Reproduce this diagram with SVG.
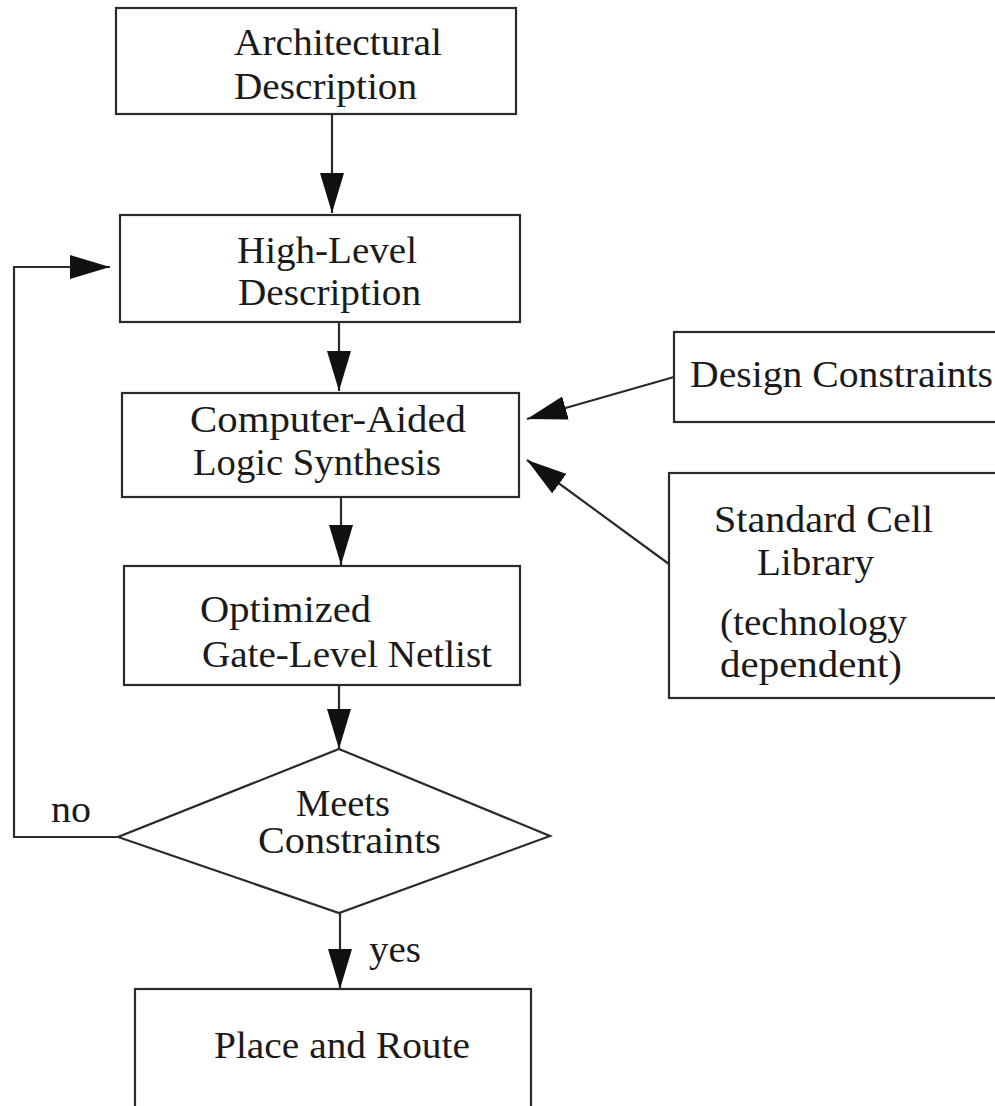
<svg xmlns="http://www.w3.org/2000/svg" width="995" height="1106" viewBox="0 0 995 1106">
<style>
.box{fill:#fff;stroke:#2a2a2a;stroke-width:2.2}
.ln{fill:none;stroke:#2a2a2a;stroke-width:2.2}
.t{font-family:"Liberation Serif","Times New Roman",serif;font-size:37px;fill:#1a1a1a}
</style>
<defs>
<marker id="ah" markerUnits="userSpaceOnUse" markerWidth="42" markerHeight="24" refX="40" refY="12" orient="auto" viewBox="0 0 42 24">
<path d="M0,0 L40,12 L0,24 z" fill="#111"/>
</marker>
</defs>
<rect width="995" height="1106" fill="#fff"/>
<g id="connectors">
<line class="ln" x1="332" y1="114" x2="332" y2="213" marker-end="url(#ah)"/>
<line class="ln" x1="339" y1="322" x2="339" y2="391" marker-end="url(#ah)"/>
<line class="ln" x1="341" y1="497" x2="341" y2="565" marker-end="url(#ah)"/>
<line class="ln" x1="339" y1="685" x2="339" y2="749" marker-end="url(#ah)"/>
<line class="ln" x1="340" y1="913" x2="340" y2="989" marker-end="url(#ah)"/>
<line class="ln" x1="674" y1="377" x2="527" y2="419" marker-end="url(#ah)"/>
<line class="ln" x1="673" y1="567" x2="527" y2="460" marker-end="url(#ah)"/>
<polyline class="ln" points="118,837 14,837 14,267 110,267" marker-end="url(#ah)"/>
<text class="t" x="51" y="822" textLength="40" lengthAdjust="spacingAndGlyphs">no</text>
<text class="t" x="369" y="962" textLength="52" lengthAdjust="spacingAndGlyphs">yes</text>
</g>
<g id="arch">
<rect class="box" x="116" y="8" width="400" height="106"/>
<text class="t" x="234" y="55" textLength="208" lengthAdjust="spacingAndGlyphs">Architectural</text>
<text class="t" x="234" y="99" textLength="183" lengthAdjust="spacingAndGlyphs">Description</text>
</g>
<g id="highlevel">
<rect class="box" x="120" y="215" width="400" height="107"/>
<text class="t" x="237" y="263" textLength="180" lengthAdjust="spacingAndGlyphs">High-Level</text>
<text class="t" x="238" y="305" textLength="183" lengthAdjust="spacingAndGlyphs">Description</text>
</g>
<g id="cals">
<rect class="box" x="122" y="393" width="397" height="104"/>
<text class="t" x="190" y="432" textLength="276" lengthAdjust="spacingAndGlyphs">Computer-Aided</text>
<text class="t" x="193" y="475" textLength="248" lengthAdjust="spacingAndGlyphs">Logic Synthesis</text>
</g>
<g id="netlist">
<rect class="box" x="124" y="566" width="396" height="119"/>
<text class="t" x="200" y="622" textLength="171" lengthAdjust="spacingAndGlyphs">Optimized</text>
<text class="t" x="202" y="667" textLength="290" lengthAdjust="spacingAndGlyphs">Gate-Level Netlist</text>
</g>
<g id="constraints">
<rect class="box" x="674" y="332" width="340" height="90"/>
<text class="t" x="690" y="387" textLength="303" lengthAdjust="spacingAndGlyphs">Design Constraints</text>
</g>
<g id="library">
<rect class="box" x="669" y="473" width="340" height="225"/>
<text class="t" x="714" y="532" textLength="219" lengthAdjust="spacingAndGlyphs">Standard Cell</text>
<text class="t" x="757" y="575" textLength="117" lengthAdjust="spacingAndGlyphs">Library</text>
<text class="t" x="720" y="635" textLength="187" lengthAdjust="spacingAndGlyphs">(technology</text>
<text class="t" x="720" y="677" textLength="182" lengthAdjust="spacingAndGlyphs">dependent)</text>
</g>
<g id="decision">
<polygon class="box" points="339,749 550,836 339,913 118,837"/>
<text class="t" x="296" y="816" textLength="94" lengthAdjust="spacingAndGlyphs">Meets</text>
<text class="t" x="258" y="853" textLength="183" lengthAdjust="spacingAndGlyphs">Constraints</text>
</g>
<g id="place">
<rect class="box" x="135" y="989" width="396" height="130"/>
<text class="t" x="214" y="1058" textLength="256" lengthAdjust="spacingAndGlyphs">Place and Route</text>
</g>
</svg>
